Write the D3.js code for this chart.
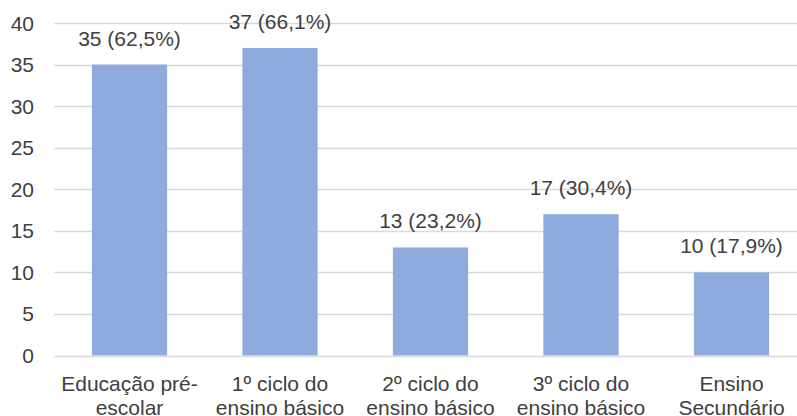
<!DOCTYPE html>
<html>
<head>
<meta charset="utf-8">
<script src="https://cdn.jsdelivr.net/npm/d3@7"></script>
<style>
  html, body { margin: 0; padding: 0; background: #fff; overflow: hidden; }
  svg text { font-family: "Liberation Sans", Arial, sans-serif; fill: #404040; }
</style>
</head>
<body>
<div id="chart"></div>
<script>
// chart data
const categories = [
    ['Educação pré-', 'escolar'],
    ['1º ciclo do', 'ensino básico'],
    ['2º ciclo do', 'ensino básico'],
    ['3º ciclo do', 'ensino básico'],
    ['Ensino', 'Secundário']
];
const counts = [35, 37, 13, 17, 10];
const percentLabels = ['62,5%', '66,1%', '23,2%', '30,4%', '17,9%'];
const yTicks = [0, 5, 10, 15, 20, 25, 30, 35, 40];

const width = 797;
const height = 416;
const fontSize = '21px';

const svg = d3.select('#chart')
    .append('svg')
    .attr('width', width)
    .attr('height', height);

// plot extends a bit past the right edge, like the original crop
const x = d3.scaleBand()
    .domain(d3.range(categories.length))
    .range([54.25, 806.75])
    .paddingInner(0.5)
    .paddingOuter(0.25);

const y = d3.scaleLinear()
    .domain([0, 40])
    .range([355.5, 23]);

// gridlines
svg.append('g')
    .selectAll('line')
    .data(yTicks)
    .enter()
    .append('line')
    .attr('x1', 54)
    .attr('x2', width)
    .attr('y1', d => Math.round(y(d)) + 0.5)
    .attr('y2', d => Math.round(y(d)) + 0.5)
    .attr('stroke', '#d9d9d9')
    .attr('stroke-width', 1.3);

// y axis labels
svg.append('g')
    .selectAll('text')
    .data(yTicks)
    .enter()
    .append('text')
    .attr('x', 34)
    .attr('y', d => y(d))
    .attr('dy', '0.36em')
    .attr('text-anchor', 'end')
    .style('font-size', fontSize)
    .text(d => d);

// bars
svg.append('g')
    .selectAll('rect')
    .data(counts)
    .enter()
    .append('rect')
    .attr('x', (d, i) => x(i))
    .attr('width', x.bandwidth())
    .attr('y', d => y(d))
    .attr('height', d => y(0) - y(d))
    .attr('fill', '#8faadc');

// value labels
svg.append('g')
    .selectAll('text')
    .data(counts)
    .enter()
    .append('text')
    .attr('x', (d, i) => x(i) + x.bandwidth() / 2)
    .attr('y', d => y(d) - 19)
    .attr('text-anchor', 'middle')
    .style('font-size', fontSize)
    .text((d, i) => `${d} (${percentLabels[i]})`);

// category labels, two lines each
const cat = svg.append('g')
    .selectAll('text')
    .data(categories)
    .enter()
    .append('text')
    .attr('text-anchor', 'middle')
    .style('font-size', fontSize);

cat.selectAll('tspan')
    .data((d, i) => d.map(line => ({ line, i })))
    .enter()
    .append('tspan')
    .attr('x', d => x(d.i) + x.bandwidth() / 2)
    .attr('y', (d, j) => 391 + j * 24)
    .text(d => d.line);
</script>
</body>
</html>
